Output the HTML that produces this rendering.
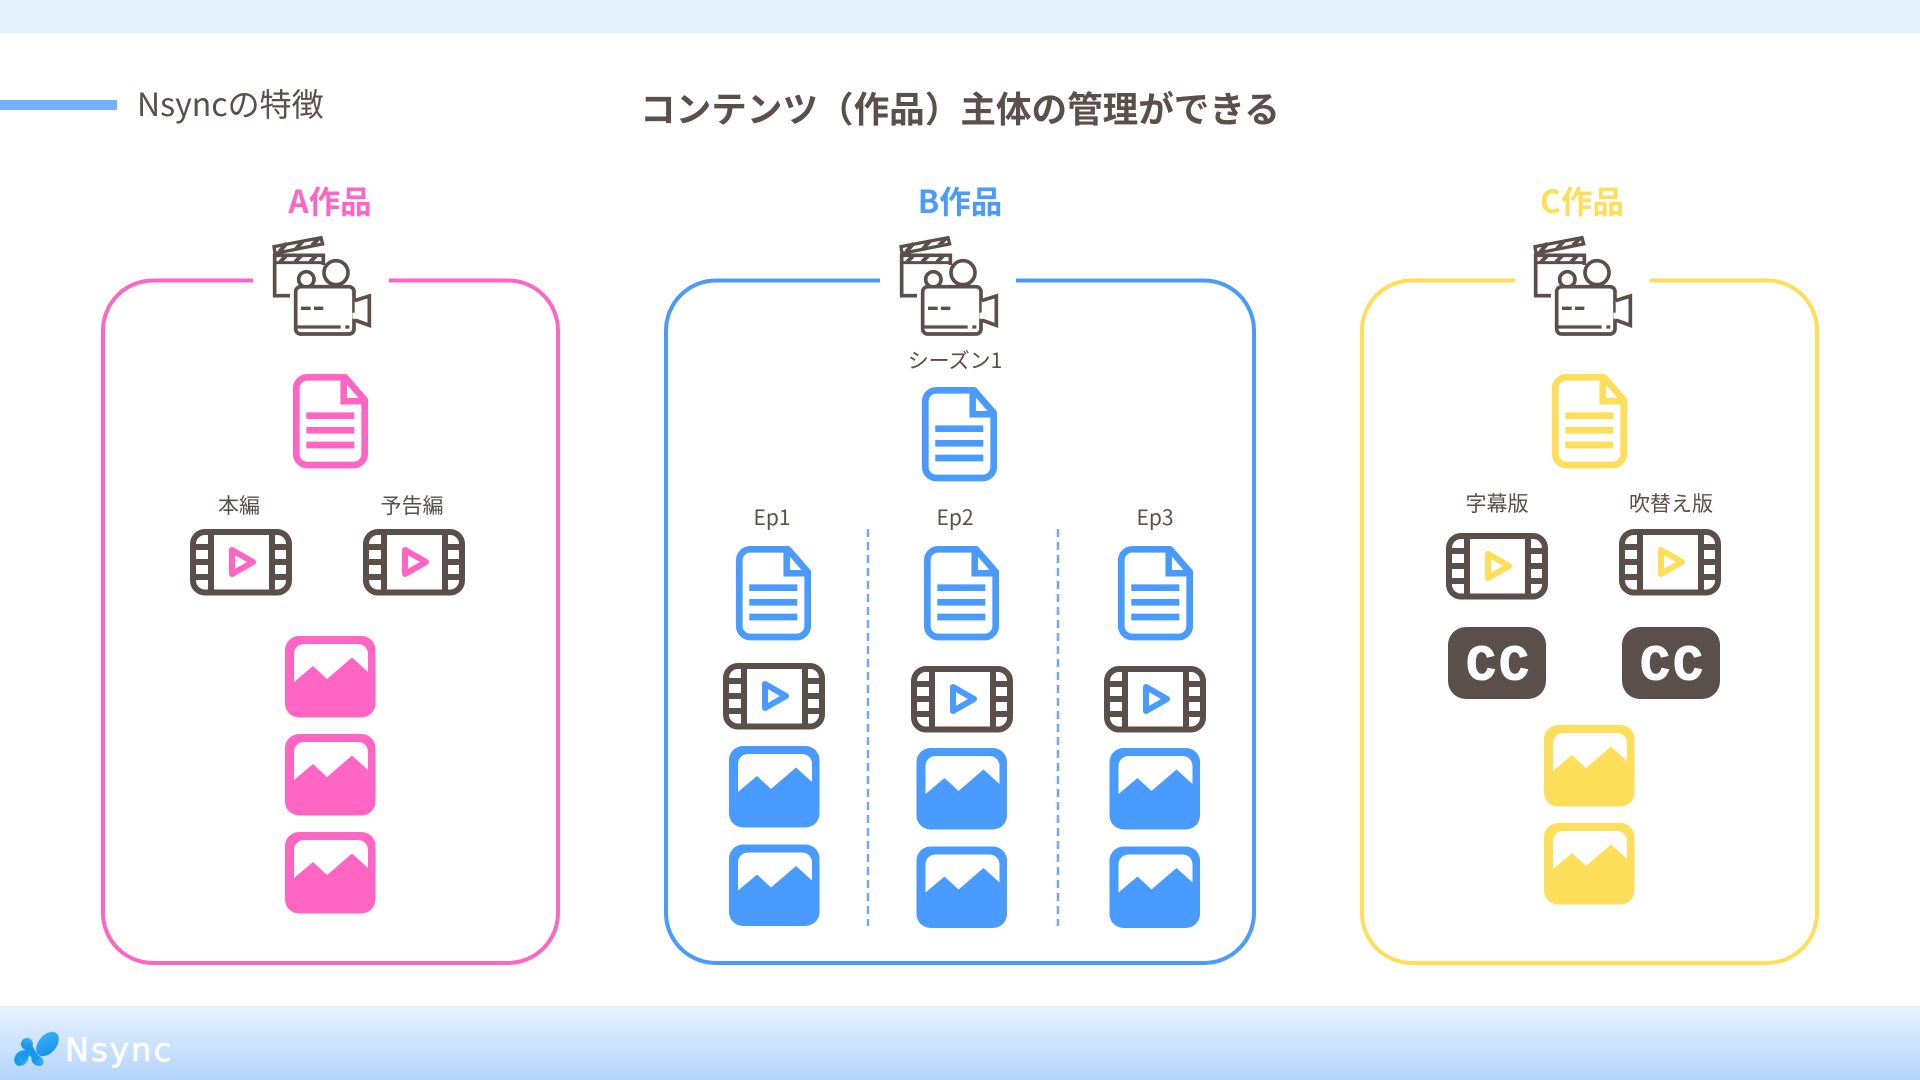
<!DOCTYPE html>
<html lang="ja"><head><meta charset="utf-8"><title>Nsyncの特徴</title>
<style>html,body{margin:0;padding:0;background:#fff;width:1920px;height:1080px;overflow:hidden}svg{display:block;font-family:"Noto Sans CJK JP","Liberation Sans",sans-serif}</style></head><body>
<svg xmlns="http://www.w3.org/2000/svg" width="1920" height="1080" viewBox="0 0 1920 1080">
<defs>
<linearGradient id="bg" x1="0" y1="0" x2="0" y2="1"><stop offset="0" stop-color="#e6f3fd"/><stop offset="1" stop-color="#b4d4fa"/></linearGradient>
<linearGradient id="lg" x1="0" y1="1" x2="1" y2="0"><stop offset="0" stop-color="#0f8ee8"/><stop offset="1" stop-color="#3fb4f8"/></linearGradient>
<g id="cam" transform="translate(-32,-16) scale(.33333)" fill="none" stroke="#5a4f4b" stroke-width="11">
<path d="M150 227H104V106H250V135"/>
<path d="M104 128H250" stroke-width="9"/>
<path d="M102 80L243 53L248 72L105 100Z" stroke-width="10"/>
<path d="M118 95L140 70M168 86L190 62M216 76L238 54M120 126L138 108M165 126L183 108M210 126L228 108" stroke-width="12"/>
<circle cx="288" cy="158" r="36" fill="#fff"/>
<circle cx="199" cy="178" r="23" fill="#fff"/>
<rect x="167" y="200" width="175" height="142" rx="15" fill="#fff"/>
<path d="M344 242L388 228V316L344 300" fill="#fff"/>
<path d="M344 278V296" stroke="#fff" stroke-width="13"/>
<path d="M183 265H212M222 265H250" stroke-width="10"/>
<path d="M172 321H302M316 321H328" stroke-width="10"/>
</g>
<g id="doc"><path d="M14 3.300H52L71.700 26V80A11 11 0 0 1 60.700 91H14.300A11 11 0 0 1 3.300 80V14.300A11 11 0 0 1 14.300 3.300Z" fill="#fff" stroke="currentColor" stroke-width="6.700" stroke-linejoin="round"/>
<path d="M50.700 3.300V27.300H71.700" fill="none" stroke="currentColor" stroke-width="6.500"/>
<path d="M13.300 41.700H61.300M13.300 56.300H61.300M13.300 71H61.300" stroke="currentColor" stroke-width="6.700" fill="none"/></g>
<g id="film"><rect x="3" y="3" width="96" height="60.500" rx="12" fill="#fff" stroke="#5a4f4b" stroke-width="6"/>
<path d="M21 1V65.500M82 1V65.500M3 18H21M3 33H21M3 48H21M82 18H99M82 33H99M82 48H99" stroke="#5a4f4b" stroke-width="6" fill="none"/>
<path d="M42 21V45L63 33Z" fill="#fff" stroke="currentColor" stroke-width="6" stroke-linejoin="round"/></g>
<g id="img"><rect x="0" y="0" width="90.500" height="81.500" rx="14" fill="currentColor"/>
<path d="M9 46V18A10 10 0 0 1 19 8H73A10 10 0 0 1 83 18V36L67 21.500L42 43L28 30Z" fill="#fff"/></g>
<g id="cc"><rect width="98" height="72" rx="18" fill="#5a4f4b"/>
<text x="18 51" y="52.500" font-size="50" font-weight="700" fill="#fff" stroke="#fff" stroke-width="1" style="font-family:'Liberation Mono',monospace">CC</text></g>
</defs>

<rect width="1920" height="1080" fill="#fff"/>
<rect width="1920" height="33.500" fill="#e3f1fc"/>
<rect y="1006" width="1920" height="74" fill="url(#bg)"/>

<rect y="100" width="117" height="10" fill="#74b1fe"/>
<text x="137" y="116" font-size="32" fill="#5a4f4b">Nsyncの特徴</text>
<text x="960" y="122" font-size="35.600" font-weight="700" fill="#5a4f4b" text-anchor="middle">コンテンツ（作品）主体の管理ができる</text>

<text x="330" y="213" font-size="31.500" font-weight="700" fill="#ff66c4" text-anchor="middle">A作品</text>
<text x="960" y="213" font-size="31.500" font-weight="700" fill="#4a9bff" text-anchor="middle">B作品</text>
<text x="1582" y="213" font-size="31.500" font-weight="700" fill="#ffde59" text-anchor="middle">C作品</text>

<g fill="none" stroke-width="4">
<path d="M253 280.500H153A50 50 0 0 0 103 330.500V913A50 50 0 0 0 153 963H508A50 50 0 0 0 558 913V330.500A50 50 0 0 0 508 280.500H389" stroke="#ff66c4"/>
<path d="M880 280.500H716A50 50 0 0 0 666 330.500V913A50 50 0 0 0 716 963H1204A50 50 0 0 0 1254 913V330.500A50 50 0 0 0 1204 280.500H1016" stroke="#4a9bff"/>
<path d="M1515 280.500H1412A50 50 0 0 0 1362 330.500V913A50 50 0 0 0 1412 963H1767A50 50 0 0 0 1817 913V330.500A50 50 0 0 0 1767 280.500H1650" stroke="#ffde59"/>
</g>

<use href="#cam" x="272" y="236"/><use href="#cam" x="899" y="236"/><use href="#cam" x="1533" y="236"/>

<!-- A -->
<g style="color:#ff66c4">
<use href="#doc" x="293" y="374"/>
<use href="#film" x="190" y="529"/><use href="#film" x="363" y="529"/>
<use href="#img" x="285" y="636"/><use href="#img" x="285" y="734"/><use href="#img" x="285" y="832"/>
</g>
<g font-size="21" fill="#5a4f4b" text-anchor="middle">
<text x="239" y="513">本編</text><text x="412" y="513">予告編</text>
<text x="955" y="368">シーズン1</text>
<text x="772" y="525">Ep1</text><text x="955" y="525">Ep2</text><text x="1155" y="525">Ep3</text>
<text x="1497" y="511">字幕版</text><text x="1671" y="511">吹替え版</text>
</g>

<!-- B -->
<g style="color:#4a9bff">
<use href="#doc" x="922" y="387"/>
<use href="#doc" x="736" y="546"/><use href="#doc" x="924" y="546"/><use href="#doc" x="1118" y="546"/>
<use href="#film" x="723" y="663"/><use href="#film" x="911" y="666"/><use href="#film" x="1104" y="666"/>
<use href="#img" x="729" y="746"/><use href="#img" x="916.500" y="748"/><use href="#img" x="1109.500" y="748"/>
<use href="#img" x="729" y="844.500"/><use href="#img" x="916.500" y="846.500"/><use href="#img" x="1109.500" y="846.500"/>
</g>
<path d="M868 529V926M1058 529V926" stroke="#74a9f2" stroke-width="2.500" stroke-dasharray="8 5" fill="none"/>

<!-- C -->
<g style="color:#ffde59">
<use href="#doc" x="1552" y="374"/>
<use href="#film" x="1446" y="533"/><use href="#film" x="1619" y="529"/>
<use href="#img" x="1544" y="725"/><use href="#img" x="1544" y="823"/>
</g>
<use href="#cc" x="1448" y="627"/><use href="#cc" x="1622" y="627"/>

<!-- logo -->
<g fill="url(#lg)">
<ellipse cx="47.500" cy="1044" rx="14" ry="9" transform="rotate(-50 47.500 1044)"/>
<ellipse cx="21.500" cy="1058" rx="6.500" ry="8.500" transform="rotate(35 21.500 1058)"/>
<circle cx="27" cy="1044" r="6"/>
<ellipse cx="37.500" cy="1060.500" rx="6.500" ry="5" transform="rotate(35 37.500 1060.500)"/>
</g>
<path d="M27 1044L37 1060M21 1058L31 1050" stroke="#1a98ec" stroke-width="7" fill="none"/>
<text x="65" y="1061" font-size="32" fill="#fff" letter-spacing="2.200" opacity=".95" style="font-family:'DejaVu Sans',sans-serif" stroke="#fff" stroke-width=".8">Nsync</text>
</svg>
</body></html>
